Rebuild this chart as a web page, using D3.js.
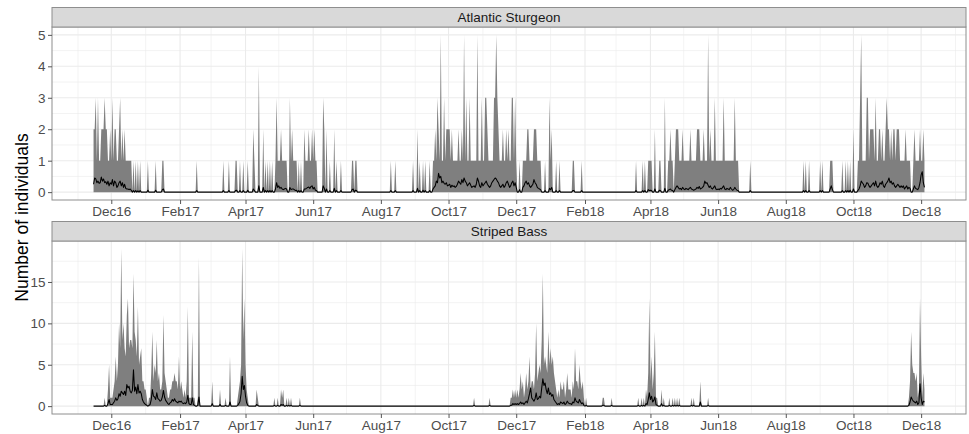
<!DOCTYPE html>
<html>
<head>
<meta charset="utf-8">
<script src="https://cdn.jsdelivr.net/npm/d3@7"></script>
<style>
  body { margin: 0; background: #ffffff; }
  svg { display: block; }
  text { font-family: "Liberation Sans", Arial, Helvetica, sans-serif; }
</style>
</head>
<body>
<svg id="chart" width="969" height="434"></svg>
<script>
// Daily detections, 15 Nov 2016 – 4 Dec 2018.
const firstDay = "2016-11-15";
const lastDay = "2018-12-04";

const panelTitles = ["Atlantic Sturgeon", "Striped Bass"];
const yAxisTitle = "Number of individuals";

const xTickDates = ["2016-12-01", "2017-02-01", "2017-04-01", "2017-06-01", "2017-08-01",
  "2017-10-01", "2017-12-01", "2018-02-01", "2018-04-01", "2018-06-01", "2018-08-01",
  "2018-10-01", "2018-12-01"];
const xTickLabels = ["Dec16", "Feb17", "Apr17", "Jun17", "Aug17", "Oct17", "Dec17",
  "Feb18", "Apr18", "Jun18", "Aug18", "Oct18", "Dec18"];
const sturgeonTicks = [0, 1, 2, 3, 4, 5];
const bassTicks = [0, 5, 10, 15];

// Each record: month, then "day:value" for every day with detections (other days are 0).
const sturgeonMax = [
  ["2016-11", "15:2 16:2 17:3 18:1 19:3 20:1 21:1 22:2 23:2 24:2 25:3 26:2 27:2 28:1 29:1 30:2"],
  ["2016-12", "1:1 2:3 3:1 4:2 5:2 6:1 7:1 8:2 9:3 10:1 11:2 12:1 13:2 14:1 15:1 16:1 17:1 18:1 19:1 21:1 23:1 25:1 27:1"],
  ["2017-01", "3:1 10:1 16:1 17:1"],
  ["2017-02", "16:1"],
  ["2017-03", "12:1 17:1 23:1 24:1 27:1 30:1"],
  ["2017-04", "3:1 8:2 9:1 13:4 17:2 19:1 21:1 23:1 25:1 28:1 29:3 30:1"],
  ["2017-05", "1:1 2:1 3:2 4:1 5:1 6:1 7:1 8:1 11:3 12:1 13:2 14:1 15:1 16:1 17:1 19:1 21:1 24:2 25:1 26:1 27:1 28:2 29:1 30:1 31:2"],
  ["2017-06", "1:1 2:2 3:1 4:1 10:3 11:2 13:2 16:1 20:2 22:1 26:1"],
  ["2017-07", "6:1 7:1 9:1 10:1"],
  ["2017-08", "10:1 14:1 30:1"],
  ["2017-09", "3:2 5:1 8:1 10:1 14:1 17:1 18:1 19:2 20:1 21:3 22:2 23:1 24:5 25:1 26:1 27:3 28:1 29:2 30:2"],
  ["2017-10", "1:2 2:2 3:1 4:2 5:1 6:1 7:1 8:1 9:1 10:2 11:1 12:1 13:2 14:1 15:5 16:1 17:3 18:1 19:1 20:3 21:1 22:1 23:1 24:1 25:1 26:1 27:5 28:1 29:1 30:1 31:3"],
  ["2017-11", "1:1 2:1 3:3 4:3 5:2 6:1 7:1 8:1 9:1 10:1 11:3 12:3 13:5 14:3 15:2 16:1 17:1 18:1 19:2 20:1 21:1 22:2 23:1 24:2 25:1 26:1 27:3 28:3 29:1 30:3"],
  ["2017-12", "1:1 4:1 7:1 8:1 9:1 10:1 11:2 12:2 13:1 14:1 15:1 16:1 17:2 18:2 19:2 20:1 21:1 22:1 23:1 27:1 31:3"],
  ["2018-01", "1:1 2:2 6:1 9:1 21:1 22:1 29:1"],
  ["2018-03", "19:1 25:1 27:1 30:1 31:1"],
  ["2018-04", "1:1 2:1 5:2 9:1 10:1 14:3 17:1 18:1 19:2 20:1 21:1 23:1 24:2 25:2 26:2 27:1 28:1 29:1 30:2"],
  ["2018-05", "1:1 2:1 3:1 4:1 5:1 6:1 7:2 8:1 9:1 10:1 11:1 12:1 13:2 14:2 15:2 16:1 17:1 18:1 19:2 20:1 21:1 22:1 23:5 24:1 25:2 26:1 27:1 28:1 29:3 30:1 31:1"],
  ["2018-06", "1:1 2:1 3:1 4:1 5:1 6:3 7:1 8:1 9:1 10:1 11:1 12:1 13:1 14:1 15:1 16:3 17:1 18:1 19:1 30:1"],
  ["2018-08", "17:1 19:1 22:1"],
  ["2018-09", "1:1 3:1 10:1 11:1 12:1 21:1 24:1 26:1 28:1"],
  ["2018-10", "1:2 5:1 6:1 7:3 8:5 9:1 10:1 11:1 12:1 13:3 14:3 15:1 16:2 17:2 18:2 19:2 20:1 21:3 22:1 23:1 24:2 25:2 26:1 27:2 28:1 29:1 30:2 31:3"],
  ["2018-11", "1:2 2:2 3:1 4:2 5:1 6:2 7:2 8:1 9:2 10:2 11:2 12:1 13:1 14:1 15:1 16:1 17:2 18:1 19:1 20:1 21:1 24:1 25:2 26:1 27:1 28:1 29:1 30:2"],
  ["2018-12", "1:1 2:1 3:2 4:1"]
];

const sturgeonMean = [
  ["2016-11", "15:.25 16:.45 17:.42 18:.3 19:.35 20:.28 21:.3 22:.48 23:.35 24:.42 25:.3 26:.33 27:.25 28:.35 29:.2 30:.3"],
  ["2016-12", "1:.25 2:.4 3:.2 4:.35 5:.3 6:.15 7:.2 8:.3 9:.35 10:.2 11:.3 12:.15 13:.25 14:.12 15:.1 16:.1 17:.08 18:.1 19:.06 21:.05 23:.05 25:.04 27:.05"],
  ["2017-01", "3:.06 10:.06 16:.08 17:.1"],
  ["2017-02", "16:.05"],
  ["2017-03", "12:.05 17:.05 23:.05 24:.06 27:.05 30:.05"],
  ["2017-04", "3:.06 8:.1 9:.05 13:.2 17:.15 19:.05 21:.05 23:.05 25:.05 28:.1 29:.3 30:.15"],
  ["2017-05", "1:.2 2:.12 3:.15 4:.1 5:.08 6:.1 7:.12 8:.1 11:.15 12:.08 13:.1 14:.1 15:.08 16:.05 17:.06 19:.05 21:.05 24:.1 25:.1 26:.12 27:.15 28:.16 29:.12 30:.18 31:.2"],
  ["2017-06", "1:.1 2:.15 3:.06 4:.05 10:.2 11:.12 13:.1 16:.05 20:.12 22:.05 26:.05"],
  ["2017-07", "6:.08 7:.1 9:.06 10:.05"],
  ["2017-08", "10:.05 14:.05 30:.05"],
  ["2017-09", "3:.12 5:.05 8:.06 10:.05 14:.05 17:.1 18:.15 19:.2 20:.35 21:.3 22:.6 23:.45 24:.5 25:.3 26:.35 27:.28 28:.25 29:.3 30:.2"],
  ["2017-10", "1:.22 2:.25 3:.15 4:.22 5:.18 6:.2 7:.15 8:.18 9:.25 10:.35 11:.3 12:.25 13:.4 14:.3 15:.45 16:.35 17:.3 18:.2 19:.25 20:.3 21:.22 22:.15 23:.18 24:.2 25:.15 26:.25 27:.45 28:.35 29:.2 30:.15 31:.3"],
  ["2017-11", "1:.2 2:.25 3:.3 4:.35 5:.25 6:.2 7:.15 8:.2 9:.3 10:.35 11:.4 12:.45 13:.42 14:.35 15:.3 16:.2 17:.15 18:.2 19:.25 20:.15 21:.2 22:.3 23:.35 24:.25 25:.15 26:.2 27:.3 28:.35 29:.2 30:.3"],
  ["2017-12", "1:.15 4:.08 7:.15 8:.2 9:.3 10:.35 11:.25 12:.3 13:.2 14:.15 15:.2 16:.25 17:.4 18:.3 19:.25 20:.15 21:.12 22:.1 23:.08 27:.05 31:.12"],
  ["2018-01", "1:.08 2:.15 6:.05 9:.05 21:.05 22:.05 29:.05"],
  ["2018-03", "19:.05 25:.05 27:.05 30:.08 31:.05"],
  ["2018-04", "1:.06 2:.05 5:.1 9:.06 10:.05 14:.12 17:.06 18:.08 19:.1 20:.06 21:.05 23:.08 24:.15 25:.2 26:.15 27:.1 28:.12 29:.08 30:.15"],
  ["2018-05", "1:.1 2:.08 3:.12 4:.1 5:.08 6:.12 7:.15 8:.1 9:.08 10:.06 11:.08 12:.1 13:.15 14:.12 15:.18 16:.1 17:.12 18:.15 19:.2 20:.35 21:.28 22:.3 23:.22 24:.15 25:.2 26:.12 27:.1 28:.15 29:.2 30:.1 31:.08"],
  ["2018-06", "1:.1 2:.08 3:.12 4:.1 5:.15 6:.2 7:.1 8:.08 9:.12 10:.1 11:.08 12:.15 13:.1 14:.06 15:.08 16:.15 17:.1 18:.06 19:.05 30:.05"],
  ["2018-08", "17:.05 19:.05 22:.05"],
  ["2018-09", "1:.05 3:.05 10:.1 11:.2 12:.08 21:.05 24:.05 26:.05 28:.06"],
  ["2018-10", "1:.1 5:.05 6:.1 7:.2 8:.35 9:.3 10:.25 11:.15 12:.2 13:.3 14:.28 15:.2 16:.15 17:.2 18:.25 19:.3 20:.2 21:.35 22:.2 23:.15 24:.2 25:.3 26:.25 27:.35 28:.2 29:.15 30:.25 31:.3"],
  ["2018-11", "1:.35 2:.45 3:.3 4:.35 5:.25 6:.3 7:.2 8:.15 9:.2 10:.25 11:.2 12:.15 13:.2 14:.15 15:.2 16:.1 17:.15 18:.2 19:.1 20:.15 21:.12 24:.1 25:.2 26:.12 27:.1 28:.08 29:.15 30:.3"],
  ["2018-12", "1:.55 2:.65 3:.3 4:.15"]
];

const bassMax = [
  ["2016-11", "25:1 28:2 29:5 30:1"],
  ["2016-12", "1:1 2:1 3:2 4:3 5:6 6:3 7:5 8:10 9:7 10:19 11:8 12:10 13:7 14:6 15:11 16:13 17:7 18:8 19:8 20:7 21:16 22:9 23:8 24:6 25:12 26:5 27:6 28:7 29:3 30:3 31:2"],
  ["2017-01", "1:2 2:1 4:1 5:1 6:4 7:9 8:3 9:5 10:4 11:8 12:3 13:4 14:2 15:2 16:3 17:11 18:4 19:3 20:2 21:1 22:1 23:2 24:2 25:3 26:3 27:4 28:3 29:3 30:2 31:6"],
  ["2017-02", "1:2 2:3 3:2 4:1 5:2 6:1 7:3 8:12 9:1 10:1 11:1 12:9 13:1 14:1 17:1 18:18"],
  ["2017-03", "2:3 9:2 14:1 18:6 25:1 26:2 27:3 28:5 29:19 30:8 31:13"],
  ["2017-04", "1:5 2:2 3:1 11:2 12:1 27:1 30:1"],
  ["2017-05", "3:2 4:1 5:2 8:1 10:1 12:1 20:1"],
  ["2017-10", "24:1"],
  ["2017-11", "7:1 26:1 27:1 28:2 29:1 30:2"],
  ["2017-12", "1:1 2:2 3:1 4:2 5:4 6:2 7:3 8:1 9:2 10:4 11:2 12:3 13:6 14:2 15:3 16:3 17:2 18:4 19:10 20:3 21:4 22:5 23:4 24:8 25:16 26:5 27:6 28:5 29:4 30:9 31:5"],
  ["2018-01", "1:7 2:5 3:6 4:4 5:3 6:2 7:1 8:2 9:1 10:3 11:2 12:2 13:3 14:1 15:2 16:4 17:2 18:2 19:2 20:1 21:3 22:2 23:7 24:3 25:3 26:2 27:5 28:3 29:2 30:3 31:1"],
  ["2018-02", "2:1 17:1 18:1 25:1"],
  ["2018-03", "21:1 24:1 26:1 28:2 29:1 30:4 31:13"],
  ["2018-04", "1:3 2:6 3:2 4:4 5:9 6:1 7:1 11:2 13:1 18:1 21:1 23:1 25:1 27:1"],
  ["2018-05", "8:1 10:1 16:3 23:1"],
  ["2018-11", "20:1 21:3 22:9 23:5 24:4 25:4 26:3 27:4 28:1 29:2 30:13"],
  ["2018-12", "1:6 2:1 3:4 4:2"]
];

const bassMean = [
  ["2016-11", "25:.1 28:.3 29:.8 30:.2"],
  ["2016-12", "1:.2 2:.2 3:.4 4:.6 5:1 6:.7 7:.9 8:1.5 9:1.2 10:1.8 11:1.6 12:1.4 13:1.8 14:1.3 15:2.6 16:2.2 17:2.4 18:1.8 19:1.6 20:1.9 21:4.4 22:1.8 23:2.3 24:1.5 25:2.6 26:1.6 27:1.8 28:1.5 29:.8 30:.5 31:.3"],
  ["2017-01", "1:.2 2:.1 4:.1 5:.2 6:.8 7:2 8:1.2 9:1.1 10:.8 11:1.6 12:.9 13:.8 14:.6 15:.7 16:1.1 17:1.9 18:1.1 19:.7 20:.5 21:.3 22:.2 23:.4 24:.5 25:.8 26:.6 27:.9 28:.6 29:.5 30:.4 31:.6"],
  ["2017-02", "1:.5 2:.6 3:.4 4:.3 5:.4 6:.3 7:.5 8:1.3 9:.3 10:.2 11:.2 12:1 13:.2 14:.1 17:.1 18:1.1"],
  ["2017-03", "2:.3 9:.2 14:.1 18:.5 25:.1 26:.3 27:.6 28:1.5 29:3.6 30:2 31:2.5"],
  ["2017-04", "1:1.2 2:.4 3:.1 11:.2 12:.1 27:.1 30:.1"],
  ["2017-05", "3:.2 4:.1 5:.2 8:.1 10:.1 12:.1 20:.1"],
  ["2017-10", "24:.1"],
  ["2017-11", "7:.1 26:.1 27:.1 28:.3 29:.2 30:.3"],
  ["2017-12", "1:.2 2:.3 3:.2 4:.3 5:.5 6:.3 7:.4 8:.2 9:.4 10:.6 11:.4 12:.9 13:1.5 14:2.2 15:1 16:.8 17:.6 18:.9 19:1.6 20:.8 21:.9 22:1.2 23:1 24:2.2 25:3.3 26:2.5 27:2.8 28:2 29:1.5 30:2.2 31:1.4"],
  ["2018-01", "1:1.6 2:1.2 3:1.4 4:.8 5:.6 6:.4 7:.2 8:.3 9:.2 10:.5 11:.4 12:.3 13:.5 14:.2 15:.3 16:.6 17:.4 18:.3 19:.3 20:.2 21:.5 22:.4 23:1 24:.6 25:.5 26:.4 27:.8 28:.5 29:.3 30:.4 31:.1"],
  ["2018-02", "2:.1 17:.1 18:.1 25:.1"],
  ["2018-03", "21:.1 24:.1 26:.1 28:.3 29:.2 30:.8 31:1.6"],
  ["2018-04", "1:.8 2:1.2 3:.5 4:.7 5:1.1 6:.2 7:.1 11:.3 13:.1 18:.1 21:.1 23:.1 25:.1 27:.1"],
  ["2018-05", "8:.1 10:.1 16:.5 23:.1"],
  ["2018-11", "20:.1 21:.5 22:1.1 23:.8 24:.6 25:.5 26:.4 27:.6 28:.2 29:.4 30:2.7"],
  ["2018-12", "1:1 2:.2 3:.6 4:.5"]
];

// ---------- helpers ----------
const parseDay = d3.utcParse("%Y-%m-%d");
const keyOf = d3.utcFormat("%Y-%m-%d");

function toLookup(records) {
  const m = new Map();
  records.forEach(([month, entries]) => {
    entries.trim().split(/\s+/).forEach(tok => {
      const [day, val] = tok.split(":");
      m.set(month + "-" + day.padStart(2, "0"), +val);
    });
  });
  return m;
}

const start = parseDay(firstDay);
const end = parseDay(lastDay);
const days = d3.utcDay.range(start, d3.utcDay.offset(end, 1));

function dailySeries(maxRecords, meanRecords) {
  const mx = toLookup(maxRecords), mn = toLookup(meanRecords);
  return days.map(date => ({
    date,
    max: mx.get(keyOf(date)) || 0,
    mean: mn.get(keyOf(date)) || 0
  }));
}

const panels = [
  { title: panelTitles[0], data: dailySeries(sturgeonMax, sturgeonMean), ticks: sturgeonTicks },
  { title: panelTitles[1], data: dailySeries(bassMax, bassMean), ticks: bassTicks }
];

// ---------- layout ----------
const W = 969, H = 434;
const left = 52, right = 966;
const stripH = 19.5;
const panelBoxes = [
  { stripTop: 7.5, top: 27, bottom: 200 },
  { stripTop: 221.5, top: 241, bottom: 414 }
];

const svg = d3.select("#chart");
svg.append("rect").attr("width", W).attr("height", H).attr("fill", "#ffffff");

// shared time scale with 5% padding on both sides
const span = end - start;
const x = d3.scaleUtc()
  .domain([new Date(+start - 0.05 * span), new Date(+end + 0.05 * span)])
  .range([left, right]);

const majorX = xTickDates.map(parseDay);
const minorX = d3.utcMonth.range(d3.utcMonth.floor(x.domain()[0]), x.domain()[1])
  .filter(d => d.getUTCMonth() % 2 === 0);

const gridColor = "#EBEBEB";
const borderColor = "#8E8E8E";
const intFormat = d3.format("d");

panels.forEach((p, i) => {
  const box = panelBoxes[i];
  const yMax = d3.max(p.data, d => d.max);
  const y = d3.scaleLinear()
    .domain([-0.05 * yMax, 1.05 * yMax])
    .range([box.bottom, box.top]);

  const g = svg.append("g");

  // minor grid
  const step = p.ticks[1] - p.ticks[0];
  const minorY = d3.range(p.ticks[0] - step / 2, y.domain()[1], step)
    .filter(v => v > y.domain()[0] && !p.ticks.includes(v));
  g.selectAll(".mgy").data(minorY).join("line")
    .attr("x1", left).attr("x2", right)
    .attr("y1", d => y(d)).attr("y2", d => y(d))
    .attr("stroke", gridColor).attr("stroke-width", 0.6);
  g.selectAll(".mgx").data(minorX.filter(d => x(d) > left && x(d) < right)).join("line")
    .attr("y1", box.top).attr("y2", box.bottom)
    .attr("x1", d => x(d)).attr("x2", d => x(d))
    .attr("stroke", gridColor).attr("stroke-width", 0.6);

  // major grid
  g.selectAll(".gy").data(p.ticks).join("line")
    .attr("x1", left).attr("x2", right)
    .attr("y1", d => y(d)).attr("y2", d => y(d))
    .attr("stroke", gridColor).attr("stroke-width", 1.1);
  g.selectAll(".gx").data(majorX).join("line")
    .attr("y1", box.top).attr("y2", box.bottom)
    .attr("x1", d => x(d)).attr("x2", d => x(d))
    .attr("stroke", gridColor).attr("stroke-width", 1.1);

  // clip
  const clipId = "clip" + i;
  svg.append("clipPath").attr("id", clipId).append("rect")
    .attr("x", left).attr("y", box.top).attr("width", right - left).attr("height", box.bottom - box.top);

  const marks = g.append("g").attr("clip-path", `url(#${clipId})`);

  // daily maximum as a filled area
  marks.append("path")
    .datum(p.data)
    .attr("fill", "#7F7F7F")
    .attr("d", d3.area().x(d => x(d.date)).y0(y(0)).y1(d => y(d.max)));

  // daily mean as a line
  marks.append("path")
    .datum(p.data)
    .attr("fill", "none")
    .attr("stroke", "#000000")
    .attr("stroke-width", 1.05)
    .attr("stroke-linejoin", "round")
    .attr("d", d3.line().x(d => x(d.date)).y(d => y(d.mean)));

  // panel border
  g.append("rect")
    .attr("x", left).attr("y", box.top)
    .attr("width", right - left).attr("height", box.bottom - box.top)
    .attr("fill", "none").attr("stroke", borderColor).attr("stroke-width", 1);

  // strip
  g.append("rect")
    .attr("x", left).attr("y", box.stripTop)
    .attr("width", right - left).attr("height", stripH)
    .attr("fill", "#D9D9D9").attr("stroke", borderColor).attr("stroke-width", 1);
  g.append("text")
    .attr("x", (left + right) / 2).attr("y", box.stripTop + stripH / 2 + 4.8)
    .attr("text-anchor", "middle")
    .attr("font-size", "13.5px").attr("fill", "#1A1A1A")
    .text(p.title);

  // axes
  const xAxis = d3.axisBottom(x)
    .tickValues(majorX)
    .tickFormat((d, k) => xTickLabels[k])
    .tickSize(4).tickPadding(2.5);
  const gx = svg.append("g").attr("transform", `translate(0,${box.bottom})`).call(xAxis);
  gx.select(".domain").remove();
  gx.selectAll(".tick line").attr("stroke", "#555555");
  gx.selectAll(".tick text").attr("fill", "#4D4D4D").attr("font-size", "13.5px")
    .attr("font-family", "Liberation Sans, Arial, sans-serif");

  const yAxis = d3.axisLeft(y).tickValues(p.ticks).tickFormat(intFormat)
    .tickSize(4).tickPadding(2.5);
  const gy = svg.append("g").attr("transform", `translate(${left},0)`).call(yAxis);
  gy.select(".domain").remove();
  gy.selectAll(".tick line").attr("stroke", "#555555");
  gy.selectAll(".tick text").attr("fill", "#4D4D4D").attr("font-size", "13.5px")
    .attr("font-family", "Liberation Sans, Arial, sans-serif");
});

// shared y-axis title
svg.append("text")
  .attr("transform", "translate(28,217.5) rotate(-90)")
  .attr("text-anchor", "middle")
  .attr("font-size", "17.5px")
  .attr("fill", "#000000")
  .text(yAxisTitle);
</script>
</body>
</html>
